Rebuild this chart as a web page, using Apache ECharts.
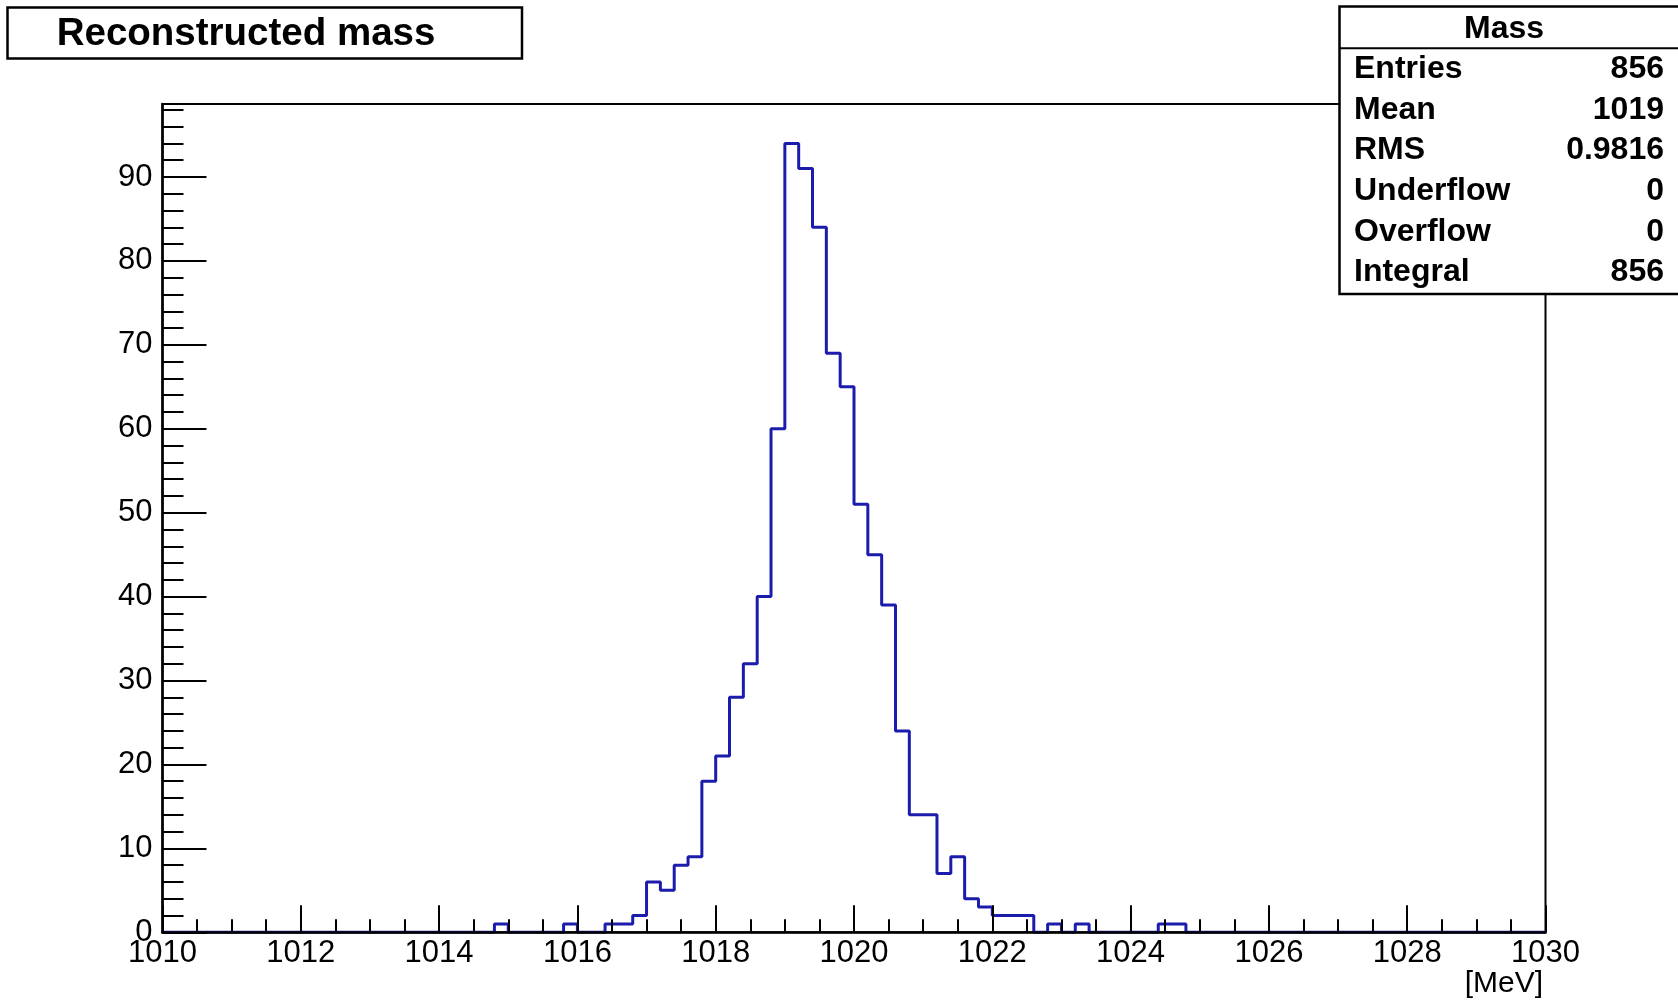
<!DOCTYPE html>
<html>
<head>
<meta charset="utf-8">
<script src="https://cdn.jsdelivr.net/npm/echarts@6/dist/echarts.min.js"></script>
<style>
  html, body { margin: 0; padding: 0; background: #fff; }
  #chart { width: 1678px; height: 1002px; }
</style>
</head>
<body>
<div id="chart"></div>
<script>
// Histogram "Mass": 100 bins of 0.2 MeV between 1010 and 1030 MeV
const histTitle = 'Reconstructed mass';
const axisName = '[MeV]';
const xMin = 1010;
const xMax = 1030;
const binWidth = 0.2;
const yMax = 98.7;

// bin contents, ten bins per row
const counts = [
  0, 0, 0, 0, 0, 0, 0, 0, 0, 0,
  0, 0, 0, 0, 0, 0, 0, 0, 0, 0,
  0, 0, 0, 0, 1, 0, 0, 0, 0, 1,
  0, 0, 1, 1, 2, 6, 5, 8, 9, 18,
  21, 28, 32, 40, 60, 94, 91, 84, 69, 65,
  51, 45, 39, 24, 14, 14, 7, 9, 4, 3,
  2, 2, 2, 0, 1, 0, 1, 0, 0, 0,
  0, 0, 1, 1, 0, 0, 0, 0, 0, 0,
  0, 0, 0, 0, 0, 0, 0, 0, 0, 0,
  0, 0, 0, 0, 0, 0, 0, 0, 0, 0
];

// statistics box
const statsTitle = 'Mass';
const statsLabels = ['Entries', 'Mean', 'RMS', 'Underflow', 'Overflow', 'Integral'];
const statsValues = ['856', '1019', '0.9816', '0', '0', '856'];

const FONT = '"Liberation Sans", Arial, Helvetica, sans-serif';

// step outline: one point on each lower bin edge, plus the upper edge of the last bin
const stepData = counts.map((c, i) => [xMin + i * binWidth, c]);
stepData.push([xMax, counts[counts.length - 1]]);

const GRID = { left: 162.5, right: 132.5, top: 104, bottom: 69.7 };

const statsElements = [
  {
    type: 'rect',
    shape: { x: 1339.5, y: 6.5, width: 400, height: 287.5 },
    style: { fill: '#fff', stroke: '#000', lineWidth: 2.5 }
  },
  {
    type: 'line',
    shape: { x1: 1339.5, y1: 48.3, x2: 1700, y2: 48.3 },
    style: { stroke: '#000', lineWidth: 2 }
  },
  {
    type: 'text',
    x: 1504, y: 29,
    style: { text: statsTitle, font: 'bold 32px ' + FONT, fill: '#000', align: 'center', verticalAlign: 'middle' }
  }
];
statsLabels.forEach((lab, i) => {
  const y = 69 + i * 40.7;
  statsElements.push({
    type: 'text', x: 1354, y: y,
    style: { text: lab, font: 'bold 32px ' + FONT, fill: '#000', align: 'left', verticalAlign: 'middle' }
  });
  statsElements.push({
    type: 'text', x: 1664, y: y,
    style: { text: statsValues[i], font: 'bold 32px ' + FONT, fill: '#000', align: 'right', verticalAlign: 'middle' }
  });
});

const chart = echarts.init(document.getElementById('chart'), null, { renderer: 'canvas' });

chart.setOption({
  animation: false,
  backgroundColor: '#fff',
  grid: {
    left: GRID.left, right: GRID.right, top: GRID.top, bottom: GRID.bottom,
    show: true, borderColor: '#000', borderWidth: 2, backgroundColor: '#fff',
    containLabel: false, outerBoundsMode: 'none'
  },
  xAxis: {
    type: 'value',
    min: xMin, max: xMax, interval: 2,
    z: 5,
    axisLine: { show: true, onZero: false, lineStyle: { color: '#000', width: 2.5 } },
    axisTick: { show: true, inside: true, length: 27, lineStyle: { color: '#000', width: 2 } },
    minorTick: { show: true, splitNumber: 4, length: 13, lineStyle: { color: '#000', width: 2 } },
    axisLabel: {
      show: true, margin: 6, fontFamily: FONT, fontSize: 31, color: '#000',
      formatter: v => String(Math.round(v))
    },
    splitLine: { show: false },
    minorSplitLine: { show: false }
  },
  yAxis: [
    {
      type: 'value',
      min: 0, max: yMax, interval: 10,
      z: 5,
      position: 'left',
      axisLine: { show: true, onZero: false, lineStyle: { color: '#000', width: 2.5 } },
      axisTick: { show: true, inside: true, length: 44, lineStyle: { color: '#000', width: 2 } },
      axisLabel: {
        show: true, margin: 10, fontFamily: FONT, fontSize: 31, color: '#000',
        showMaxLabel: false,
        formatter: v => (v % 10 === 0 ? String(v) : '')
      },
      splitLine: { show: false }
    },
    {
      type: 'value',
      min: 0, max: yMax, interval: 2,
      z: 5,
      position: 'left',
      offset: 0,
      axisLine: { show: false },
      axisTick: { show: true, inside: true, length: 21, lineStyle: { color: '#000', width: 2 } },
      axisLabel: { show: false },
      splitLine: { show: false }
    }
  ],
  series: [
    {
      type: 'line',
      step: 'end',
      data: stepData,
      xAxisIndex: 0,
      yAxisIndex: 0,
      symbol: 'none',
      z: 2,
      lineStyle: { color: '#1c1cac', width: 3 }
    }
  ],
  graphic: [
    {
      type: 'group',
      children: [
        {
          type: 'rect',
          shape: { x: 7.5, y: 7.5, width: 514.5, height: 51 },
          style: { fill: '#fff', stroke: '#000', lineWidth: 2.5 }
        },
        {
          type: 'text', x: 56.7, y: 34,
          style: { text: histTitle, font: 'bold 38.5px ' + FONT, fill: '#000', align: 'left', verticalAlign: 'middle' }
        }
      ]
    },
    // x-axis title, right-aligned under the end of the axis
    {
      type: 'text', x: 1543, y: 969,
      style: { text: axisName, font: '30px ' + FONT, fill: '#000', align: 'right', verticalAlign: 'top' }
    },
    { type: 'group', children: statsElements }
  ]
});
</script>
</body>
</html>
